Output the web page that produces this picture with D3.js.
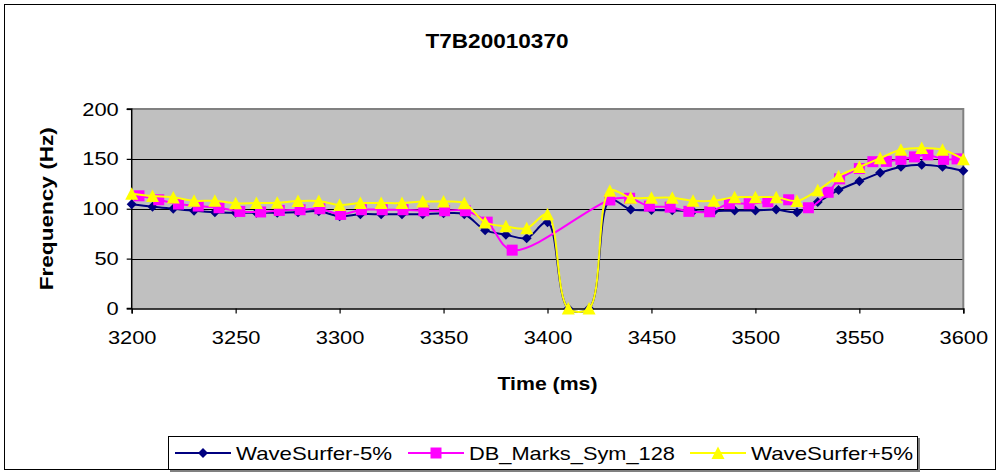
<!DOCTYPE html>
<html><head><meta charset="utf-8">
<script src="https://cdn.jsdelivr.net/npm/d3@7"></script>
<style>
html,body{margin:0;padding:0;background:#fff;}
svg{display:block;font-family:"Liberation Sans",Arial,sans-serif;}
</style></head>
<body><svg id="c" width="1000" height="474"></svg>
<script>
// ---- data ----
const chartTitle = "T7B20010370";
const xTitle = "Time (ms)";
const yTitle = "Frequency (Hz)";
const xTicks = [3200, 3250, 3300, 3350, 3400, 3450, 3500, 3550, 3600];
const yTicks = [0, 50, 100, 150, 200];
const seriesNames = ["WaveSurfer-5%", "DB_Marks_Sym_128", "WaveSurfer+5%"];

const wsTimes = [3200,3210,3220,3230,3240,3250,3260,3270,3280,3290,3300,3310,3320,3330,3340,3350,3360,3370,3380,3390,3400,3410,3420,3430,3440,3450,3460,3470,3480,3490,3500,3510,3520,3530,3540,3550,3560,3570,3580,3590,3600];
const wsMinus = [104.5,102,100,98,96.5,96,96,96,96.5,97.5,92.5,94.5,94.5,94.5,94.5,95.5,94.5,78.5,74,70.5,86.5,0,0,108.5,99.3,98.7,98.4,97.4,97.5,98.3,98.3,99.3,96.6,106.8,118.7,127.6,136,142.2,144.2,142.2,138];
const wsPlus = [115,112.7,111.4,108,108,105.5,105.7,106,107.7,107.7,103.7,105.7,105.7,105.7,107.2,107.2,105.6,86.3,82.4,80.4,94.4,0,0,118,111,111,111,108,108,111.6,111.6,111.6,107.8,118.5,132.7,141.8,150.7,159.2,160.9,159.2,149.7];

const dbTimes = [3203.5,3213,3222.5,3232,3242,3252,3262,3271,3281,3290.5,3300.5,3310.5,3320.5,3330.5,3340.5,3350.5,3360.5,3371,3383,3430,3439.5,3449,3459,3468,3478,3487.5,3497,3506,3516,3525.5,3535,3540.5,3550,3556.5,3563,3570,3576.5,3583,3590.5,3597];
const dbValues = [113,109,104.7,102.7,101,97.3,96.8,98.3,99,100,94.3,99,99,99,98,98,98,86.6,58.5,108.8,110.5,102.6,101.6,97.4,97,105,105,107,109,101,116.5,130,140.3,147.2,147.5,149.5,152,154,149.5,150];

// ---- layout ----
const svg = d3.select("#c");
const W = 1000, H = 474;
const plot = {left: 131.7, right: 963.3, top: 109, bottom: 308.5};
const FONT = "'Liberation Sans',Arial,sans-serif";

function stretch(sel, factor){
  sel.each(function(){
    const n = this.getComputedTextLength();
    d3.select(this).attr("textLength", n*factor).attr("lengthAdjust","spacingAndGlyphs");
  });
}

svg.append("rect").attr("x",0).attr("y",0).attr("width",W).attr("height",H).attr("fill","#fff");
svg.append("rect").attr("x",4.5).attr("y",4.5).attr("width",991).attr("height",465)
  .attr("fill","#fff").attr("stroke","#000").attr("stroke-width",1);

const x = d3.scaleLinear().domain([3200,3600]).range([plot.left, plot.right]);
const y = d3.scaleLinear().domain([0,200]).range([plot.bottom, plot.top]);

// plot background
svg.append("rect").attr("x",plot.left).attr("y",plot.top)
  .attr("width",plot.right-plot.left).attr("height",plot.bottom-plot.top)
  .attr("fill","#c0c0c0");

// gridlines
svg.append("g").selectAll("line").data(yTicks.filter(d=>d>0 && d<200)).join("line")
  .attr("x1",plot.left).attr("x2",plot.right)
  .attr("y1",d=>Math.round(y(d))+0.5).attr("y2",d=>Math.round(y(d))+0.5)
  .attr("stroke","#000").attr("stroke-width",1);

// top/right gray border
svg.append("path")
  .attr("d",`M${plot.left},${plot.top} L${plot.right},${plot.top} L${plot.right},${plot.bottom}`)
  .attr("fill","none").attr("stroke","#808080").attr("stroke-width",2);

// axes
const yAxis = d3.axisLeft(y).tickValues(yTicks).tickSize(5).tickPadding(8).tickFormat(d3.format("d"));
const xAxis = d3.axisBottom(x).tickValues(xTicks).tickSize(5).tickPadding(17).tickFormat(d3.format("d"));
const gy = svg.append("g").attr("transform",`translate(${plot.left},0)`).call(yAxis);
const gx = svg.append("g").attr("transform",`translate(0,${plot.bottom})`).call(xAxis);
[gx, gy].forEach(g=>{
  g.select(".domain").attr("stroke","#000").attr("stroke-width",1.5);
  g.selectAll(".tick line").attr("stroke","#000").attr("stroke-width",1.2);
  g.selectAll(".tick text").attr("fill","#000").attr("font-size",19)
    .attr("font-family",FONT);
  stretch(g.selectAll(".tick text"), 1.15);
});
gy.select(".domain").attr("d",`M-5,${plot.top}H0V${plot.bottom}H-5`);

// series
const colors = ["#000080","#ff00ff","#ffff00"];
const curve = d3.curveCatmullRom.alpha(0.5);
const series = [
  {name: seriesNames[0], pts: wsTimes.map((t,i)=>[t, wsMinus[i]]), color: colors[0], shape: "diamond"},
  {name: seriesNames[1], pts: dbTimes.map((t,i)=>[t, dbValues[i]]), color: colors[1], shape: "square"},
  {name: seriesNames[2], pts: wsTimes.map((t,i)=>[t, wsPlus[i]]), color: colors[2], shape: "triangle"}
];
const line = d3.line().x(d=>x(d[0])).y(d=>y(d[1])).curve(curve);

function markerPath(shape){
  if(shape==="diamond") return "M0,-5L5,0L0,5L-5,0Z";
  if(shape==="square") return "M-5.5,-5.5H5.5V5.5H-5.5Z";
  return "M0,-6.5L6.5,6L-6.5,6Z";
}

series.forEach(s=>{
  const g = svg.append("g");
  g.append("path").attr("d",line(s.pts)).attr("fill","none")
    .attr("stroke",s.color).attr("stroke-width",2);
  g.selectAll("path.m").data(s.pts).join("path").attr("class","m")
    .attr("transform",d=>`translate(${x(d[0])},${y(d[1])})`)
    .attr("d",markerPath(s.shape)).attr("fill",s.color);
});

// titles
const t1 = svg.append("text").attr("x",497).attr("y",48).attr("text-anchor","middle")
  .attr("font-size",21).attr("font-weight","bold").text(chartTitle);
const t2 = svg.append("text").attr("x",(plot.left+plot.right)/2).attr("y",390).attr("text-anchor","middle")
  .attr("font-size",19).attr("font-weight","bold").text(xTitle);
const t3 = svg.append("text").attr("transform",`translate(53,${(plot.top+plot.bottom)/2}) rotate(-90)`)
  .attr("text-anchor","middle").attr("font-size",19).attr("font-weight","bold").text(yTitle);
t1.attr("textLength",143).attr("lengthAdjust","spacingAndGlyphs");
t2.attr("textLength",100).attr("lengthAdjust","spacingAndGlyphs");
t3.attr("textLength",163).attr("lengthAdjust","spacingAndGlyphs");

// legend
const lg = svg.append("g");
lg.append("rect").attr("x",170).attr("y",438).attr("width",750).attr("height",34).attr("fill","#808080");
lg.append("rect").attr("x",168.5).attr("y",436.5).attr("width",749).attr("height",33)
  .attr("fill","#fff").attr("stroke","#000").attr("stroke-width",1);
const legendPos = [175, 408, 690];
const legendLen = [156, 206, 162];
series.forEach((s,i)=>{
  const lx = legendPos[i];
  const cy = 453;
  lg.append("line").attr("x1",lx).attr("x2",lx+56).attr("y1",cy).attr("y2",cy)
    .attr("stroke",s.color).attr("stroke-width",2);
  lg.append("path").attr("transform",`translate(${lx+28},${cy})`).attr("d",markerPath(s.shape)).attr("fill",s.color);
  lg.append("text").attr("x",lx+61).attr("y",cy+7).attr("font-size",19)
    .attr("textLength",legendLen[i]).attr("lengthAdjust","spacingAndGlyphs").text(s.name);
});
</script>
</body></html>
